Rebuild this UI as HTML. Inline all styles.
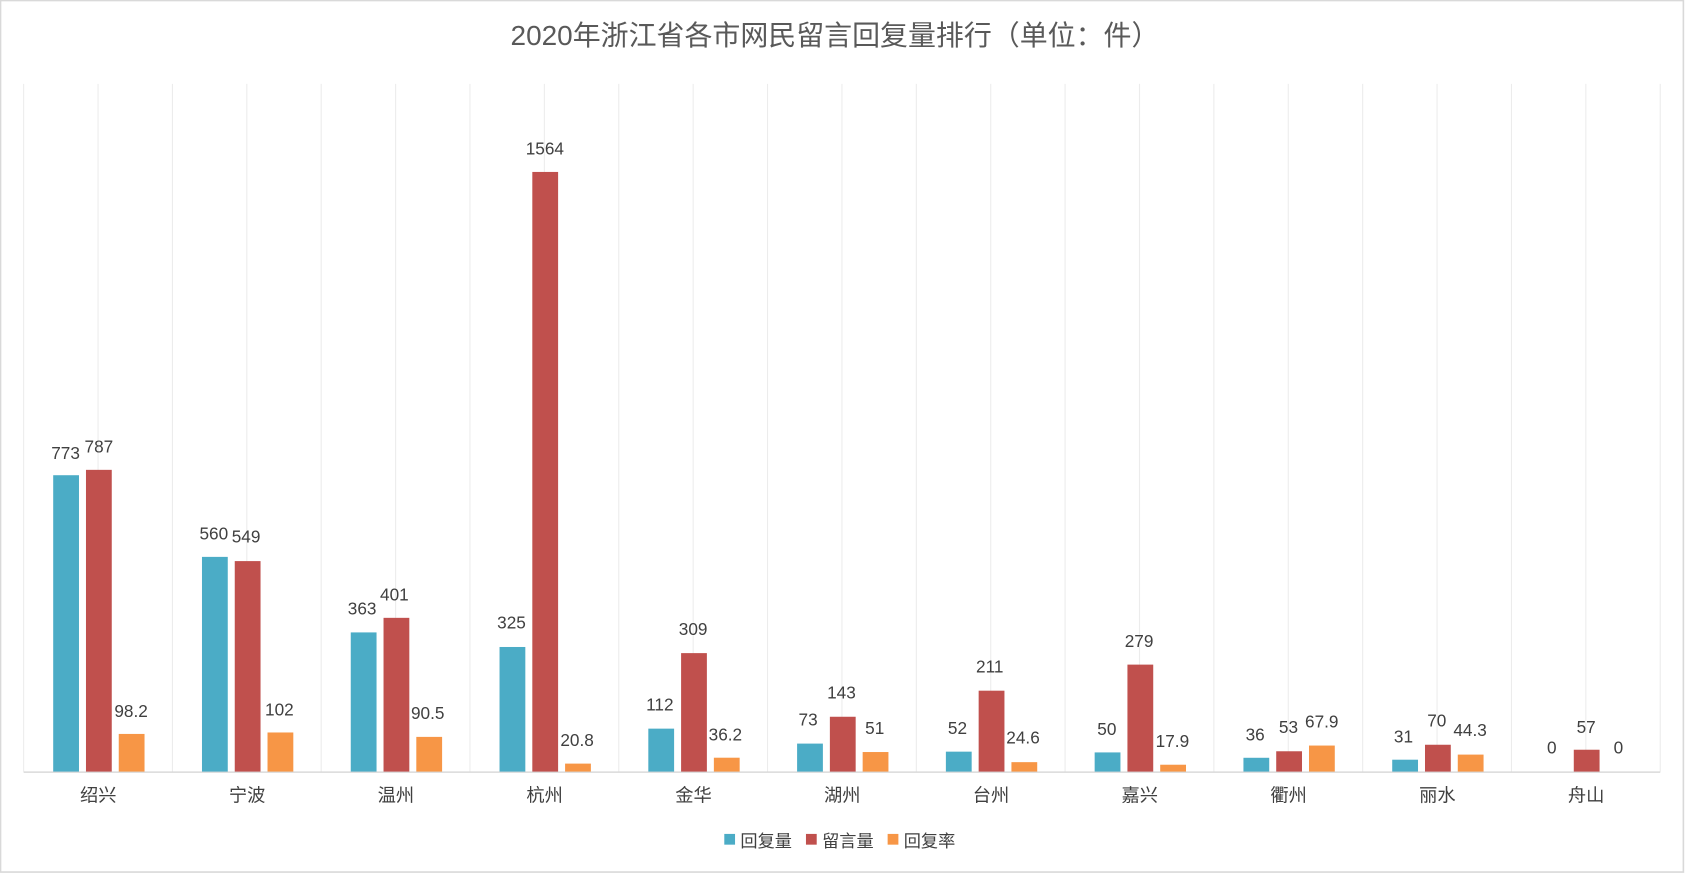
<!DOCTYPE html>
<html><head><meta charset="utf-8"><style>
html,body{margin:0;padding:0;background:#fff;}
svg{display:block;}
text{font-family:"Liberation Sans","Noto Sans CJK SC",sans-serif;fill:#404040;}
</style></head><body>
<svg width="1685" height="887" viewBox="0 0 1568 825.4" preserveAspectRatio="none" xmlns="http://www.w3.org/2000/svg">
<rect x="0.5" y="0.5" width="1566" height="811" fill="#fff" stroke="#d9d9d9" stroke-width="1.5"/>
<text x="777" y="42" font-size="26" text-anchor="middle" fill="#595959" style="fill:#595959">2020年浙江省各市网民留言回复量排行（单位：件）</text>
<g id="grid" stroke="#ececec" stroke-width="1"></g>
<line x1="22" y1="718.5" x2="1545" y2="718.5" stroke="#d9d9d9" stroke-width="1.5"/>
<g id="bars"></g>
<g id="labels" font-size="16" text-anchor="middle"></g>
<g id="cats" font-size="17" text-anchor="middle"></g>
<g font-size="16">
<rect x="674" y="776" width="10" height="10" fill="#4bacc6"/><text x="689" y="788">回复量</text>
<rect x="750" y="776" width="10" height="10" fill="#c0504d"/><text x="765" y="788">留言量</text>
<rect x="826" y="776" width="10" height="10" fill="#f79646"/><text x="841" y="788">回复率</text>
</g>
</svg>
<script>
const ns="http://www.w3.org/2000/svg";
function el(t,a,p,txt){const e=document.createElementNS(ns,t);for(const k in a)e.setAttribute(k,a[k]);if(txt!==undefined)e.textContent=txt;document.getElementById(p).appendChild(e);}
const bw=138.45;
for(let i=0;i<=22;i++){const x=22+i*bw/2;el('line',{x1:x,y1:78,x2:x,y2:718},'grid');}
const cats=["绍兴","宁波","温州","杭州","金华","湖州","台州","嘉兴","衢州","丽水","舟山"];
const d=[[773,787,98.2],[560,549,102],[363,401,90.5],[325,1564,20.8],[112,309,36.2],[73,143,51],[52,211,24.6],[50,279,17.9],[36,53,67.9],[31,70,44.3],[0,57,0]];
const L=[[[61,421],[92,415],[122,661]],[[199,496],[229,499],[260,660]],[[337,566],[367,553],[398,663]],[[476,579],[507,138],[537,688]],[[614,655],[645,585],[675,683]],[[752,669],[783,644],[814,677]],[[891,677],[921,620],[952,686]],[[1030,678],[1060,596],[1091,689]],[[1168,683],[1199,676],[1230,671]],[[1306,685],[1337,670],[1368,679]],[[1444,695],[1476,676],[1506,695]]];
const cols=["#4bacc6","#c0504d","#f79646"];
const k=558/1564;
d.forEach((r,i)=>{const c=91.5+i*bw;
 r.forEach((v,j)=>{const h=v*k;const x=c-42+j*30.5;
  if(h>0)el('rect',{x:x,y:718-h,width:24,height:h,fill:cols[j]},'bars');
  el('text',{x:L[i][j][0],y:L[i][j][1]+6},'labels',String(v));});
 el('text',{x:c,y:746},'cats',cats[i]);
});
</script>
</body></html>
